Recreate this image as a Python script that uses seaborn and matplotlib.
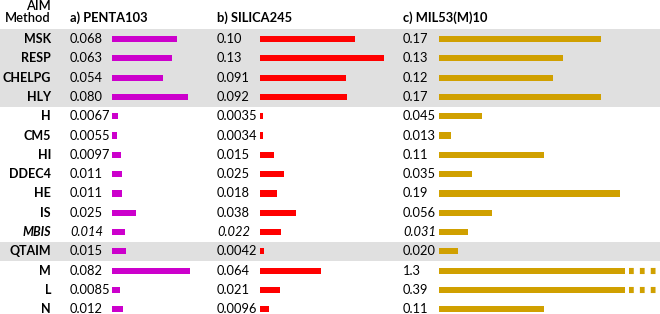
import seaborn as sns
import pandas as pd
import matplotlib.pyplot as plt

methods = ['MSK', 'RESP', 'CHELPG', 'HLY', 'H', 'CM5', 'HI', 'DDEC4', 'HE', 'IS',
           'MBIS', 'QTAIM', 'M', 'L', 'N']
penta103 = ['0.068', '0.063', '0.054', '0.080', '0.0067', '0.0055', '0.0097', '0.011',
            '0.011', '0.025', '0.014', '0.015', '0.082', '0.0085', '0.012']
silica245 = ['0.10', '0.13', '0.091', '0.092', '0.0035', '0.0034', '0.015', '0.025',
             '0.018', '0.038', '0.022', '0.0042', '0.064', '0.021', '0.0096']
mil53 = ['0.17', '0.13', '0.12', '0.17', '0.045', '0.013', '0.11', '0.035', '0.19',
         '0.056', '0.031', '0.020', '1.3', '0.39', '0.11']
headers = ['a) PENTA103', 'b) SILICA245', 'c) MIL53(M)10']
shaded = ['MSK', 'RESP', 'CHELPG', 'HLY', 'QTAIM']
italic = ['MBIS']

plt.rcParams['font.family'] = ['Lato', 'DejaVu Sans']

W, H = 660, 314
px_per_unit = 950.0   # same bar scale in every column
row_top, row_h = 29.4, 19.3   # pixel top of first row band, row height
n = len(methods)
ax_bottom = (H - (row_top + n * row_h)) / H
ax_height = n * row_h / H

fig = plt.figure(figsize=(W / 100, H / 100), dpi=100)

# background / text layer, x in pixels, y in rows
bg = fig.add_axes([0, ax_bottom, 1, ax_height])
bg.set_xlim(0, W)
bg.set_ylim(n - 0.5, -0.5)
bg.axis('off')
for i, m in enumerate(methods):
    if m in shaded:
        bg.axhspan(i - 0.5, i + 0.5, color='#e0e0e0', lw=0)

fs = 9.3
for i, m in enumerate(methods):
    style = 'italic' if m in italic else 'normal'
    bg.text(51, i, m, ha='right', va='center', fontsize=9.0, fontweight='bold',
            fontstyle=style)

# header text (above the row axes)
fig.text(51 / W, 1 - 6 / H, 'AIM', ha='right', va='center', fontsize=fs,
         fontweight='semibold')
fig.text(51 / W, 1 - 18 / H, 'Method', ha='right', va='center', fontsize=fs,
         fontweight='semibold')

columns = [
    (penta103, 70, 112, 92, '#cc00cc'),
    (silica245, 217, 260, 140, '#ff0000'),
    (mil53, 403, 439, 221, '#d0a000'),
]

for (labels, text_x, bar_x, bar_w, color), title in zip(columns, headers):
    fig.text(text_x / W, 1 - 18 / H, title, ha='left', va='center',
             fontsize=fs, fontweight='bold')
    vals = [float(s) for s in labels]
    for i, (m, s) in enumerate(zip(methods, labels)):
        style = 'italic' if m in italic else 'normal'
        bg.text(text_x, i, s, ha='left', va='center', fontsize=fs, fontstyle=style)

    xmax = bar_w / px_per_unit
    cap = (625 - bar_x) / px_per_unit
    df = pd.DataFrame({'method': methods, 'value': [min(v, cap) for v in vals]})
    ax = fig.add_axes([bar_x / W, ax_bottom, bar_w / W, ax_height])
    ax.patch.set_alpha(0)
    sns.barplot(data=df, x='value', y='method', orient='h', color=color,
                width=0.32, linewidth=0, saturation=1, ax=ax)
    # broken bars for values beyond the column
    for i, v in enumerate(vals):
        if v > cap:
            ax.plot([(629 - bar_x) / px_per_unit, (657 - bar_x) / px_per_unit], [i, i],
                    color=color, lw=4.4, linestyle=(0, (0.78, 1.0)),
                    dash_capstyle='butt')
    ax.set_xlim(0, xmax)
    ax.set_ylim(n - 0.5, -0.5)
    ax.axis('off')

fig.savefig('out.png', dpi=100)
